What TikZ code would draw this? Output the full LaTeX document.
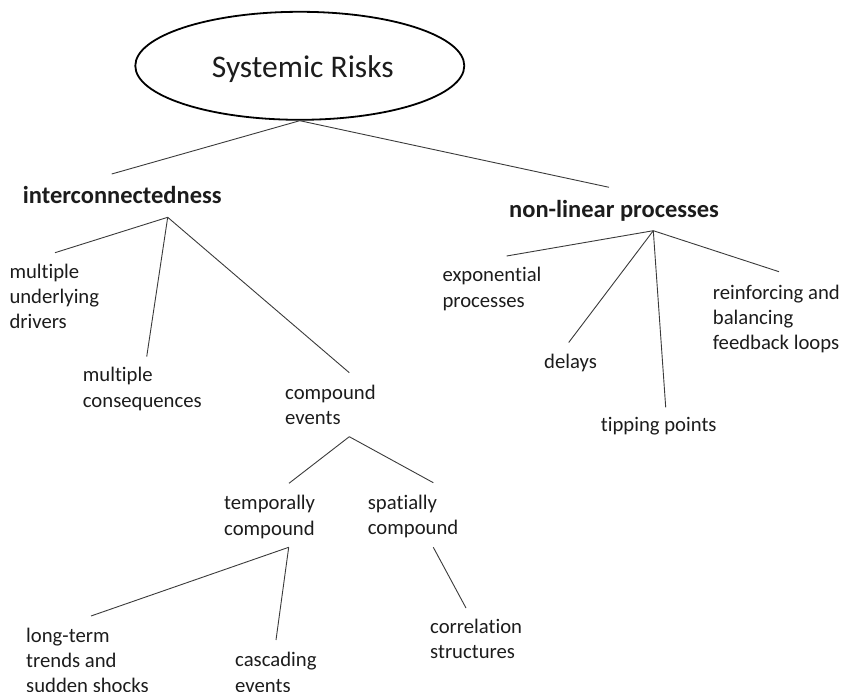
\documentclass[tikz,border=0pt]{standalone}
\usepackage{fontspec}
\setmainfont{Carlito}[Ligatures=NoCommon]
\usetikzlibrary{shapes.geometric}
\definecolor{ink}{HTML}{1C1C1C}
\definecolor{wire}{HTML}{3A3A3A}
\newcommand{\stack}[1]{\begin{tabular}[t]{@{}l@{}}#1\end{tabular}}
\tikzset{
  lbl/.style={anchor=base west, inner sep=0pt, text=ink,
    font=\fontsize{20.7}{25.2}\selectfont},
  head/.style={anchor=base west, inner sep=0pt, text=ink,
    font=\fontsize{24.5}{29}\selectfont\bfseries},
  root/.style={ellipse, draw=black, line width=1.8pt, inner sep=0pt,
    minimum width=329pt, minimum height=108pt, text=ink,
    font=\fontsize{31.5}{36}\selectfont, text height=23pt, text depth=0pt},
  link/.style={draw=wire, line width=0.9pt}
}
\begin{document}
\begin{tikzpicture}[x=1pt,y=-1pt]
\useasboundingbox (0,0) rectangle (844,692);

% nodes
\node[root] (title) at (299.8,65.8) {\hspace*{6pt}Systemic Risks};
\node[head] (ic) at (22.7,204) {interconnectedness};
\node[head] (nl) at (509,217.3) {non-linear processes};

\node[lbl] (mud) at (9.3,278.5) {\stack{multiple\\underlying\\drivers}};
\node[lbl] (mc) at (82.7,382) {\stack{multiple\\consequences}};
\node[lbl] (ce) at (285,399.5) {\stack{compound\\events}};

\node[lbl] (ep) at (442.3,282) {\stack{exponential\\processes}};
\node[lbl] (dl) at (544,368.5) {delays};
\node[lbl] (tp) at (600.7,432) {tipping points};
\node[lbl] (rb) at (712.7,299.5) {\stack{reinforcing and\\balancing\\feedback loops}};

\node[lbl] (tc) at (224,510) {\stack{temporally\\compound}};
\node[lbl] (sc) at (367.7,509.5) {\stack{spatially\\compound}};

\node[lbl] (lt) at (26,642.3) {\stack{long-term\\trends and\\sudden shocks}};
\node[lbl] (cas) at (235,666.8) {\stack{cascading\\events}};
\node[lbl] (cor) at (430,633.5) {\stack{correlation\\structures}};

% connector end points
\coordinate (ic-in) at (111.7,174);
\coordinate (nl-in) at (609,187.3);
\coordinate (ic-out) at (167.7,217.3);
\coordinate (mud-in) at (55,252.7);
\coordinate (mc-in) at (146.7,356.7);
\coordinate (ce-in) at (349.3,372.7);
\coordinate (nl-out) at (653.3,230.7);
\coordinate (ep-in) at (506.7,256);
\coordinate (dl-in) at (568.7,342.5);
\coordinate (tp-in) at (665.7,407.3);
\coordinate (rb-in) at (779,271.7);
\coordinate (ce-out) at (349.3,436.7);
\coordinate (tc-in) at (289,483.3);
\coordinate (sc-in) at (433.3,482.7);
\coordinate (tc-out) at (288.7,547.3);
\coordinate (lt-in) at (91,616);
\coordinate (cas-in) at (276,640);
\coordinate (sc-out) at (433.3,547.3);
\coordinate (cor-in) at (466,608);

% connectors
\draw[link] (title.south) -- (ic-in);
\draw[link] (title.south) -- (nl-in);
\draw[link] (ic-out) -- (mud-in);
\draw[link] (ic-out) -- (mc-in);
\draw[link] (ic-out) -- (ce-in);
\draw[link] (nl-out) -- (ep-in);
\draw[link] (nl-out) -- (dl-in);
\draw[link] (nl-out) -- (tp-in);
\draw[link] (nl-out) -- (rb-in);
\draw[link] (ce-out) -- (tc-in);
\draw[link] (ce-out) -- (sc-in);
\draw[link] (tc-out) -- (lt-in);
\draw[link] (tc-out) -- (cas-in);
\draw[link] (sc-out) -- (cor-in);
\end{tikzpicture}
\end{document}
